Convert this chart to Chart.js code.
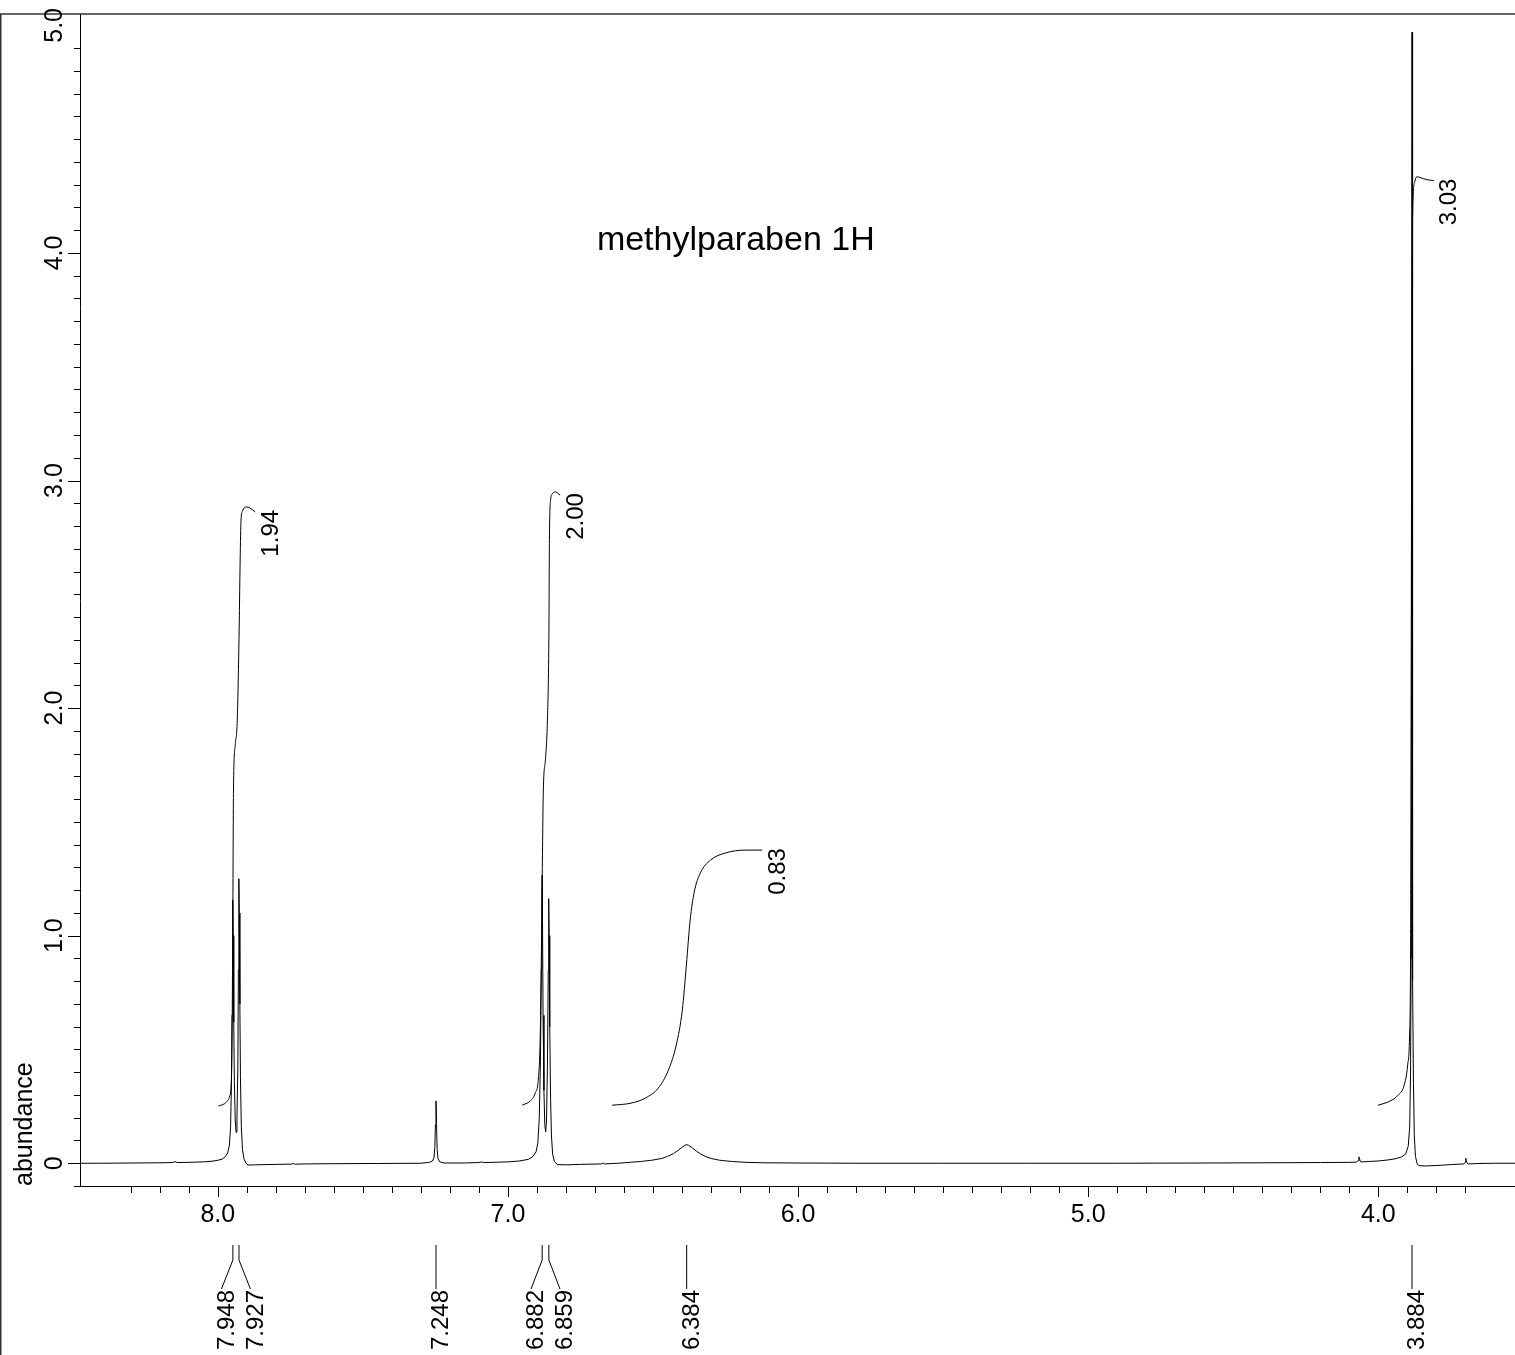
<!DOCTYPE html>
<html>
<head>
<meta charset="utf-8">
<title>methylparaben 1H</title>
<script src="https://cdn.jsdelivr.net/npm/chart.js@4.4.0/dist/chart.umd.min.js"></script>
<style>
  html, body { margin: 0; padding: 0; background: #fff; }
  canvas { display: block; }
</style>
</head>
<body>
<canvas id="nmr" width="1515" height="1355"></canvas>
<script>
var FONT = '"Liberation Sans", Arial, sans-serif';

// spectrum trace (ppm / abundance)
var specPpm = [8.475, 8.40, 8.30, 8.20, 8.155, 8.147, 8.140, 8.10, 8.05, 8.02, 8.00, 7.985, 7.975, 7.966, 7.960,
  7.956, 7.953, 7.951, 7.949, 7.948, 7.947, 7.945, 7.943, 7.940, 7.937, 7.934, 7.931, 7.929, 7.928, 7.927,
  7.926, 7.924, 7.922, 7.919, 7.915, 7.910, 7.903, 7.895, 7.87, 7.80, 7.745, 7.740, 7.735, 7.70, 7.60,
  7.45, 7.30, 7.27, 7.26, 7.255, 7.252, 7.250, 7.248, 7.246, 7.244, 7.241, 7.235, 7.22, 7.15, 7.10,
  7.09, 7.085, 7.05, 7.00, 6.96, 6.93, 6.915, 6.903, 6.897, 6.892, 6.888, 6.885, 6.883, 6.882, 6.881,
  6.879, 6.876, 6.873, 6.870, 6.867, 6.864, 6.861, 6.860, 6.859, 6.858, 6.856, 6.853, 6.850, 6.846, 6.840,
  6.83, 6.80, 6.75, 6.676, 6.672, 6.668, 6.62, 6.58, 6.54, 6.50, 6.47, 6.45, 6.43, 6.415, 6.40,
  6.39, 6.384, 6.378, 6.365, 6.35, 6.335, 6.32, 6.30, 6.27, 6.23, 6.18, 6.12, 6.00, 5.80, 5.50,
  5.20, 4.90, 4.60, 4.40, 4.20, 4.10, 4.075, 4.070, 4.067, 4.065, 4.062, 4.055, 4.03, 4.00, 3.97,
  3.94, 3.92, 3.906, 3.897, 3.892, 3.889, 3.887, 3.886, 3.885, 3.884, 3.883, 3.882, 3.881, 3.879, 3.876,
  3.872, 3.866, 3.86, 3.84, 3.80, 3.75, 3.705, 3.701, 3.699, 3.697, 3.694, 3.69, 3.65, 3.60, 3.529];
var specAbund = [0.000, 0.000, 0.001, 0.002, 0.003, 0.007, 0.003, 0.004, 0.006, 0.009, 0.013, 0.018, 0.028, 0.045, 0.08,
  0.16, 0.35, 0.65, 1.02, 1.156, 1.0, 0.62, 0.36, 0.19, 0.136, 0.2, 0.42, 0.85, 1.15, 1.25,
  1.1, 0.7, 0.38, 0.16, 0.06, 0.02, 0.0, -0.008, -0.007, -0.005, -0.004, 0.0, -0.004, -0.003, -0.002,
  -0.001, 0.000, 0.004, 0.01, 0.025, 0.07, 0.17, 0.274, 0.17, 0.06, 0.02, 0.006, 0.001, 0.001, 0.003,
  0.006, 0.003, 0.004, 0.006, 0.010, 0.017, 0.028, 0.05, 0.09, 0.2, 0.45, 0.85, 1.15, 1.266, 1.1,
  0.65, 0.32, 0.17, 0.137, 0.19, 0.42, 0.85, 1.05, 1.163, 1.0, 0.6, 0.28, 0.12, 0.04, 0.008,
  -0.006, -0.007, -0.005, -0.003, 0.002, -0.003, 0.000, 0.004, 0.008, 0.014, 0.021, 0.030, 0.042, 0.055, 0.070,
  0.079, 0.082, 0.079, 0.068, 0.053, 0.040, 0.030, 0.021, 0.013, 0.008, 0.004, 0.002, 0.001, 0.000, 0.000,
  0.000, 0.000, 0.001, 0.002, 0.003, 0.004, 0.005, 0.012, 0.028, 0.02, 0.007, 0.006, 0.008, 0.010, 0.014,
  0.02, 0.028, 0.04, 0.075, 0.16, 0.4, 0.9, 1.6, 3.0, 4.97, 3.0, 1.5, 0.8, 0.35, 0.12,
  0.03, -0.004, -0.01, -0.012, -0.01, -0.006, -0.003, 0.004, 0.022, 0.012, 0.0, -0.003, -0.001, 0.000, 0.000];

// integral curves
var int1Ppm = [7.998, 7.971, 7.959, 7.954, 7.951, 7.948, 7.946, 7.940, 7.933, 7.927, 7.923, 7.920, 7.915, 7.902, 7.889, 7.871];
var int1Val = [0.251, 0.268, 0.295, 0.343, 0.541, 1.156, 1.64, 1.837, 1.947, 2.30, 2.65, 2.826, 2.866, 2.884, 2.879, 2.862];
var int2Ppm = [6.951, 6.924, 6.906, 6.895, 6.889, 6.885, 6.882, 6.878, 6.871, 6.864, 6.859, 6.857, 6.853, 6.848, 6.838, 6.820];
var int2Val = [0.255, 0.273, 0.308, 0.374, 0.541, 0.892, 1.244, 1.64, 1.77, 1.947, 2.30, 2.74, 2.914, 2.94, 2.95, 2.936];
var int3Ppm = [6.641, 6.576, 6.527, 6.482, 6.447, 6.420, 6.399, 6.385, 6.372, 6.358, 6.337, 6.302, 6.251, 6.182, 6.124];
var int3Val = [0.255, 0.264, 0.286, 0.330, 0.409, 0.519, 0.673, 0.870, 1.068, 1.191, 1.275, 1.332, 1.363, 1.376, 1.376];
var int4Ppm = [4.001, 3.960, 3.932, 3.911, 3.899, 3.892, 3.889, 3.887, 3.885, 3.883, 3.880, 3.875, 3.867, 3.853, 3.833, 3.809];
var int4Val = [0.255, 0.273, 0.299, 0.343, 0.431, 0.585, 0.936, 2.035, 3.354, 4.0, 4.25, 4.31, 4.335, 4.33, 4.322, 4.318];
var intLabels = ['1.94', '2.00', '0.83', '3.03'];

// picked peaks
var peakPpm = [7.948, 7.927, 7.248, 6.882, 6.859, 6.384, 3.884];
var peakLabels = ['7.948', '7.927', '7.248', '6.882', '6.859', '6.384', '3.884'];

// tick labels
var xTickVals = [8, 7, 6, 5, 4];
var xTickLabels = ['8.0', '7.0', '6.0', '5.0', '4.0'];
var yTickVals = [0, 1, 2, 3, 4, 5];
var yTickLabels = ['0', '1.0', '2.0', '3.0', '4.0', '5.0'];

var titleText = 'methylparaben 1H';
var yTitle = 'abundance';

function pts(xs, ys) {
  return xs.map(function(x, i) { return {x: x, y: ys[i]}; });
}
function onStep(v) { return Math.abs(v * 10 - Math.round(v * 10)) < 1e-6; }
function isWhole(v) { return Math.abs(v - Math.round(v)) < 1e-6; }

function lineSet(data, smooth) {
  var ds = { data: data, borderColor: '#000', borderWidth: 1, pointRadius: 0, tension: 0, fill: false };
  if (smooth) ds.cubicInterpolationMode = 'monotone';
  return ds;
}

var nmrDecor = {
  id: 'nmrDecor',
  afterDraw: function(chart) {
    var ctx = chart.ctx, xs = chart.scales.x, ys = chart.scales.y, area = chart.chartArea;
    ctx.save();

    // page frame
    ctx.strokeStyle = '#333';
    ctx.lineWidth = 1.5;
    ctx.beginPath();
    ctx.moveTo(0, area.top);
    ctx.lineTo(chart.width, area.top);
    ctx.moveTo(0.75, area.top);
    ctx.lineTo(0.75, chart.height);
    ctx.stroke();

    ctx.strokeStyle = '#000';
    ctx.lineWidth = 1;
    ctx.fillStyle = '#000';

    // y ticks
    ys.ticks.forEach(function(t) {
      var v = t.value;
      if (!onStep(v) || v > 5.0001) return;
      var py = Math.round(ys.getPixelForValue(v)) + 0.5;
      ctx.beginPath();
      ctx.moveTo(area.left - (isWhole(v) ? 12 : 6), py);
      ctx.lineTo(area.left, py);
      ctx.stroke();
    });
    ctx.font = '25px ' + FONT;
    ctx.textAlign = 'center';
    ctx.textBaseline = 'alphabetic';
    yTickVals.forEach(function(v, i) {
      ctx.save();
      ctx.translate(area.left - 18, ys.getPixelForValue(v));
      ctx.rotate(-Math.PI / 2);
      ctx.fillText(yTickLabels[i], 0, 0);
      ctx.restore();
    });
    ctx.save();
    ctx.translate(32, area.bottom);
    ctx.rotate(-Math.PI / 2);
    ctx.textAlign = 'left';
    ctx.fillText(yTitle, 0, 0);
    ctx.restore();

    // x ticks
    xs.ticks.forEach(function(t) {
      var v = t.value;
      if (!onStep(v) || v <= xs.min + 1e-6 || v >= xs.max - 1e-6) return;
      var px = Math.round(xs.getPixelForValue(v)) + 0.5;
      ctx.beginPath();
      ctx.moveTo(px, area.bottom);
      ctx.lineTo(px, area.bottom + (isWhole(v) ? 11 : 7));
      ctx.stroke();
    });

    // peak picks below the axis
    var px = peakPpm.map(function(p) { return xs.getPixelForValue(p); });
    var lx = px.slice();
    for (var i = 0; i < px.length - 1; i++) {
      if (px[i + 1] - px[i] < 20) {
        var m = (px[i] + px[i + 1]) / 2;
        lx[i] = m - 14.5;
        lx[i + 1] = m + 14.5;
        i++;
      }
    }
    var y0 = area.bottom + 59, y1 = area.bottom + 74, y2 = area.bottom + 103;
    ctx.font = '24px ' + FONT;
    peakPpm.forEach(function(p, k) {
      ctx.beginPath();
      ctx.moveTo(px[k], y0);
      if (Math.abs(lx[k] - px[k]) > 0.5) {
        ctx.lineTo(px[k], y1);
      }
      ctx.lineTo(lx[k], y2);
      ctx.stroke();
      ctx.save();
      ctx.translate(lx[k] + 5.5, y2 + 1);
      ctx.rotate(-Math.PI / 2);
      ctx.textAlign = 'right';
      ctx.textBaseline = 'middle';
      ctx.fillText(peakLabels[k], 0, 0);
      ctx.restore();
    });

    // integral values at the end of each curve
    intLabels.forEach(function(lbl, k) {
      var d = chart.data.datasets[k + 1].data;
      var last = d[d.length - 1];
      ctx.save();
      ctx.translate(xs.getPixelForValue(last.x) + 16, ys.getPixelForValue(last.y) - 2);
      ctx.rotate(-Math.PI / 2);
      ctx.textAlign = 'right';
      ctx.textBaseline = 'middle';
      ctx.fillText(lbl, 0, 0);
      ctx.restore();
    });

    // title
    ctx.font = '34px ' + FONT;
    ctx.textAlign = 'center';
    ctx.textBaseline = 'alphabetic';
    ctx.fillText(titleText, area.left + (area.right - area.left) * 0.457, 250);

    ctx.restore();
  }
};

new Chart(document.getElementById('nmr').getContext('2d'), {
  type: 'line',
  data: {
    datasets: [
      lineSet(pts(specPpm, specAbund), false),
      lineSet(pts(int1Ppm, int1Val), true),
      lineSet(pts(int2Ppm, int2Val), true),
      lineSet(pts(int3Ppm, int3Val), true),
      lineSet(pts(int4Ppm, int4Val), true)
    ]
  },
  options: {
    responsive: false,
    animation: false,
    devicePixelRatio: 1,
    layout: { padding: { top: 14, left: 0, right: 0, bottom: 0 } },
    plugins: { legend: { display: false }, tooltip: { enabled: false }, title: { display: false } },
    scales: {
      x: {
        type: 'linear',
        reverse: true,
        min: 3.529,
        max: 8.475,
        grid: { display: true, drawOnChartArea: false, drawTicks: true, tickLength: 14, color: 'rgba(0,0,0,0)', tickColor: 'rgba(0,0,0,0)' },
        border: { display: true, color: '#000', width: 1 },
        ticks: {
          stepSize: 0.1,
          autoSkip: false,
          maxRotation: 0,
          minRotation: 0,
          padding: 0,
          color: '#000',
          font: { family: FONT, size: 25 },
          callback: function(v) {
            var i = xTickVals.findIndex(function(t) { return Math.abs(t - v) < 1e-6; });
            return i >= 0 ? xTickLabels[i] : '';
          }
        },
        afterFit: function(s) { s.height = 169; }
      },
      y: {
        type: 'linear',
        min: -0.1,
        max: 5.05,
        grid: { display: false, drawTicks: false },
        border: { display: true, color: '#000', width: 1 },
        ticks: { stepSize: 0.1, display: false, padding: 0 },
        afterFit: function(s) { s.width = 80; }
      }
    }
  },
  plugins: [nmrDecor]
});
</script>
</body>
</html>
